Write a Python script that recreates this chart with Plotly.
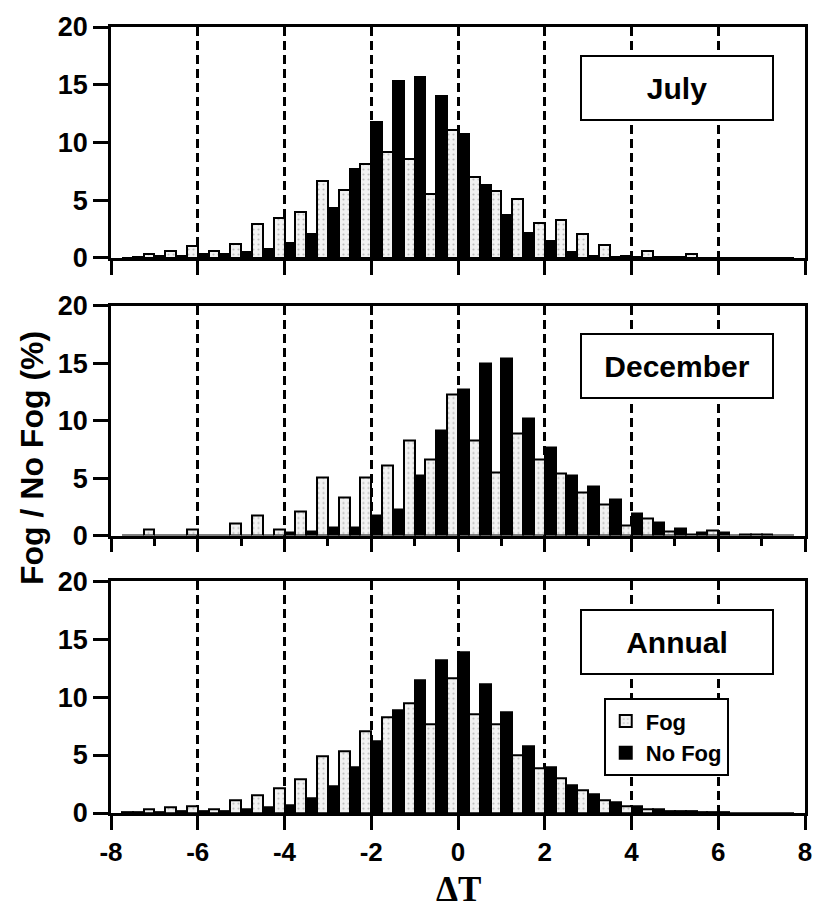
import plotly.graph_objects as go
from plotly.subplots import make_subplots

# Bin centres of the temperature-difference histogram (bin width 0.5)
dt_bins = [-7.5, -7.0, -6.5, -6.0, -5.5, -5.0, -4.5, -4.0, -3.5, -3.0, -2.5,
           -2.0, -1.5, -1.0, -0.5, 0.0, 0.5, 1.0, 1.5, 2.0, 2.5, 3.0, 3.5,
           4.0, 4.5, 5.0, 5.5, 6.0, 6.5, 7.0, 7.5]

july_fog = [0.0, 0.3, 0.6, 1.0, 0.6, 1.2, 2.9, 3.5, 4.0, 6.7, 5.9,
            8.1, 9.2, 8.6, 5.5, 11.1, 7.0, 5.8, 5.1, 3.0, 3.3, 2.1, 1.15,
            0.15, 0.6, 0.1, 0.35, 0.0, 0.0, 0.0, 0.0]
july_nofog = [0.1, 0.2, 0.2, 0.3, 0.3, 0.5, 0.8, 1.3, 2.1, 4.3, 7.7,
              11.8, 15.3, 15.7, 14.0, 10.7, 6.35, 3.7, 2.2, 1.5, 0.5, 0.2, 0.1,
              0.05, 0.05, 0.05, 0.0, 0.0, 0.0, 0.0, 0.0]

dec_fog = [0.0, 0.5, 0.0, 0.5, 0.0, 1.0, 1.7, 0.5, 2.1, 5.05, 3.3,
           5.05, 6.1, 8.3, 6.6, 12.3, 8.3, 5.5, 8.85, 6.6, 5.4, 3.7, 2.7,
           0.85, 1.45, 0.35, 0.05, 0.45, 0.0, 0.05, 0.0]
dec_nofog = [0.0, 0.0, 0.0, 0.0, 0.0, 0.0, 0.0, 0.3, 0.35, 0.7, 0.7,
             1.7, 2.25, 5.2, 9.1, 12.7, 15.0, 15.4, 10.2, 7.65, 5.25, 4.25, 3.1,
             1.95, 1.1, 0.6, 0.3, 0.25, 0.1, 0.05, 0.0]

annual_fog = [0.1, 0.3, 0.5, 0.6, 0.35, 1.15, 1.5, 2.15, 2.9, 4.9, 5.3,
              7.1, 8.3, 9.5, 7.65, 11.6, 8.5, 7.65, 5.0, 3.85, 3.0, 1.95, 1.1,
              0.6, 0.35, 0.2, 0.2, 0.05, 0.0, 0.0, 0.0]
annual_nofog = [0.05, 0.1, 0.2, 0.2, 0.2, 0.35, 0.5, 0.7, 1.3, 2.3, 3.95,
                6.2, 8.85, 11.5, 13.2, 13.9, 11.1, 8.7, 5.8, 4.0, 2.4, 1.65, 0.9,
                0.55, 0.35, 0.2, 0.1, 0.05, 0.0, 0.0, 0.0]

panel_titles = ["July", "December", "Annual"]
fog_series = [july_fog, dec_fog, annual_fog]
nofog_series = [july_nofog, dec_nofog, annual_nofog]

x_tick_vals = [-8, -6, -4, -2, 0, 2, 4, 6, 8]
x_tick_text = ["-8", "-6", "-4", "-2", "0", "2", "4", "6", "8"]
x_minor_vals = [-7, -5, -3, -1, 1, 3, 5, 7]
y_tick_vals = [0, 5, 10, 15, 20]

FONT = "Liberation Sans, Arial, Helvetica, sans-serif"

fig = make_subplots(rows=3, cols=1)

for i, (fog, nofog) in enumerate(zip(fog_series, nofog_series)):
    row = i + 1
    last = row == 3
    fig.add_trace(go.Bar(
        x=dt_bins, y=fog, name="Fog", showlegend=last,
        marker=dict(color="#f2f2f2",
                    line=dict(color="black", width=2),
                    pattern=dict(shape=".", fgcolor="#8a8a8a", bgcolor="#f2f2f2",
                                 size=5, solidity=0.15)),
    ), row=row, col=1)
    fig.add_trace(go.Bar(
        x=dt_bins, y=nofog, name="No Fog", showlegend=last,
        marker=dict(color="black", line=dict(color="black", width=2)),
    ), row=row, col=1)

# Panel placement (fractions of the plotting area, bottom to top)
domains = [[0.7062, 1.0], [0.353, 0.6456], [0.0, 0.295]]

axis_common = dict(showline=True, linewidth=2.5, linecolor="black", mirror=True,
                   ticks="outside", tickwidth=2.5, tickcolor="black",
                   zeroline=False)

for i in range(3):
    row = i + 1
    xa = dict(axis_common, range=[-8, 8], tickmode="array", tickvals=x_tick_vals,
              ticktext=x_tick_text, showticklabels=(row == 3), ticklen=14,
              showgrid=True, gridcolor="black", gridwidth=2.5, griddash="9px,5px",
              tickfont=dict(family=FONT, size=26, color="black", weight="bold"))
    if row == 2:
        xa["minor"] = dict(tickmode="array", tickvals=x_minor_vals,
                           ticks="outside", ticklen=8, tickwidth=2.5,
                           tickcolor="black", showgrid=False)
    fig.update_xaxes(xa, row=row, col=1)
    fig.update_yaxes(dict(axis_common, range=[0, 20], tickmode="array",
                          tickvals=y_tick_vals, showgrid=False, domain=domains[i],
                          ticklen=15,
                          tickfont=dict(family=FONT, size=27, color="black",
                                        weight="bold")),
                     row=row, col=1)

annotations = []
for i, title in enumerate(panel_titles):
    suffix = "" if i == 0 else str(i + 1)
    annotations.append(dict(
        text=title, xref="x" + suffix, yref="y" + suffix, x=5.04, y=14.75,
        showarrow=False, bgcolor="white", bordercolor="black", borderwidth=2,
        borderpad=0, width=190, height=62,
        font=dict(family=FONT, size=30, color="black", weight="bold"),
    ))

annotations.append(dict(
    text="Fog / No Fog (%)", xref="paper", yref="paper", x=-0.114, y=0.4515,
    textangle=-90, showarrow=False, xanchor="center", yanchor="middle",
    font=dict(family=FONT, size=32, color="black", weight="bold"),
))
annotations.append(dict(
    text="ΔT", xref="paper", yref="paper", x=0.501, y=-0.0694,
    showarrow=False, xanchor="center", yanchor="top",
    font=dict(family="Liberation Serif, Times New Roman, serif", size=35,
              color="black", weight="bold"),
))

fig.update_layout(
    width=825, height=912,
    margin=dict(l=111, r=20, t=20, b=99),
    paper_bgcolor="white", plot_bgcolor="white",
    barmode="group", bargap=0, bargroupgap=0,
    annotations=annotations,
    showlegend=True,
    legend=dict(x=0.71, y=0.146, xanchor="left", yanchor="top",
                bgcolor="white", bordercolor="black", borderwidth=2,
                tracegroupgap=0, traceorder="normal", itemwidth=30,
                font=dict(family=FONT, size=22, color="black", weight="bold")),
)

fig.write_html("out.html")
